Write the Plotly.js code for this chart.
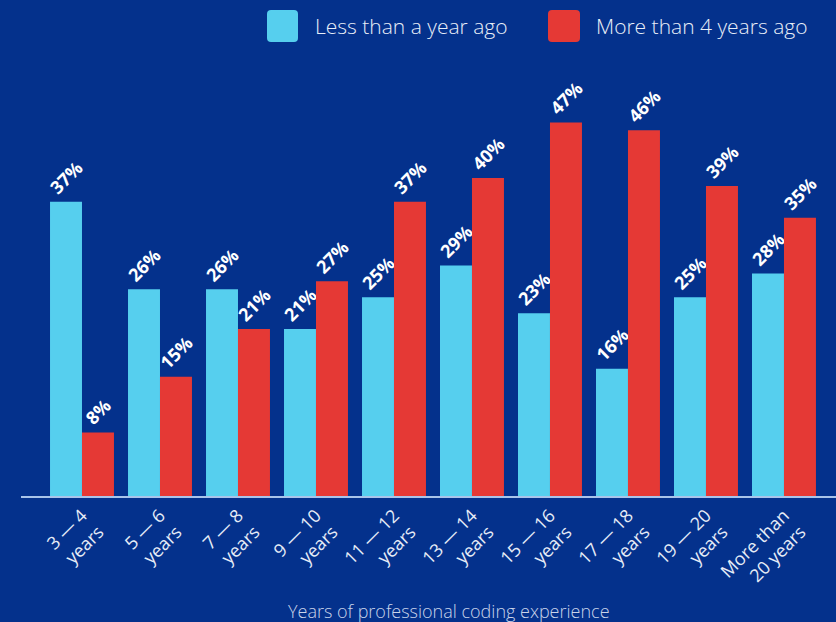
<!DOCTYPE html>
<html>
<head>
<meta charset="utf-8">
<script src="https://cdn.plot.ly/plotly-3.0.1.min.js"></script>
<style>html,body{margin:0;padding:0;background:#04318c;}#chart{width:836px;height:622px;}</style>
</head>
<body>
<div id="chart"></div>
<script>
const categories = ["3 — 4<br>years","5 — 6<br>years","7 — 8<br>years","9 — 10<br>years","11 — 12<br>years","13 — 14<br>years","15 — 16<br>years","17 — 18<br>years","19 — 20<br>years","More than<br>20 years"];
const lessThanYear = [37, 26, 26, 21, 25, 29, 23, 16, 25, 28];
const moreThan4Years = [8, 15, 21, 27, 37, 40, 47, 46, 39, 35];
const seriesNames = ["Less than a year ago", "More than 4 years ago"];
const colors = ["#56cfee", "#e53935"];

const W = 836, H = 622, ML = 21, MR = 0, MT = 56, MB = 126;
const pw = W - ML - MR, ph = H - MT - MB;
const px = x => (x - ML) / pw;
const py = y => (H - MB - y) / ph;

function roundRect(x0, y0, x1, y1, r) {
  const X = v => px(v), Y = v => py(v);
  const rx = r / pw, ry = r / ph;
  const a = X(x0), b = X(x1), top = Y(y0), bot = Y(y1);
  return `M ${a+rx},${top} L ${b-rx},${top} Q ${b},${top} ${b},${top-ry} L ${b},${bot+ry} Q ${b},${bot} ${b-rx},${bot} L ${a+rx},${bot} Q ${a},${bot} ${a},${bot+ry} L ${a},${top-ry} Q ${a},${top} ${a+rx},${top} Z`;
}

const labelFont = {family: "Open Sans, Noto Sans, sans-serif", size: 18, color: "#ffffff", weight: 700};

const traces = [lessThanYear, moreThan4Years].map((vals, i) => ({
  type: "bar",
  name: seriesNames[i],
  x: categories,
  y: vals,
  marker: {color: colors[i]},
  text: vals.map(v => v + "%"),
  textposition: "outside",
  textangle: -45,
  constraintext: "none",
  cliponaxis: false,
  textfont: labelFont,
  hoverinfo: "skip",
  showlegend: false
}));

const layout = {
  width: W, height: H,
  margin: {l: ML, r: MR, t: MT, b: MB},
  paper_bgcolor: "#04318c",
  plot_bgcolor: "rgba(0,0,0,0)",
  barmode: "group",
  bargap: 0.18,
  bargroupgap: 0,
  xaxis: {
    type: "category",
    range: [-0.782, 9.667],
    tickangle: -45,
    tickfont: {family: "Open Sans, Noto Sans, sans-serif", size: 18, color: "#e6ecf7", weight: 400},
    showline: true, linecolor: "#a9c4ea", linewidth: 2,
    showgrid: false, ticks: "", zeroline: false
  },
  yaxis: {
    range: [0, 55.35], visible: false, showgrid: false, zeroline: false
  },
  shapes: [
    {type: "path", xref: "paper", yref: "paper", path: roundRect(267, 10, 298, 42, 4), fillcolor: colors[0], line: {width: 0}},
    {type: "path", xref: "paper", yref: "paper", path: roundRect(548, 10, 580, 42, 4), fillcolor: colors[1], line: {width: 0}}
  ],
  annotations: [
    {xref: "paper", yref: "paper", x: px(313), y: py(26), xanchor: "left", yanchor: "middle", showarrow: false,
     text: seriesNames[0], font: {family: "Open Sans, Noto Sans, sans-serif", size: 21, color: "#e8eef8", weight: 300}},
    {xref: "paper", yref: "paper", x: px(594), y: py(26), xanchor: "left", yanchor: "middle", showarrow: false,
     text: seriesNames[1], font: {family: "Open Sans, Noto Sans, sans-serif", size: 21, color: "#e8eef8", weight: 300}},
    {xref: "paper", yref: "paper", x: px(449), y: py(611), xanchor: "center", yanchor: "middle", showarrow: false,
     text: "Years of professional coding experience", font: {family: "Open Sans, Noto Sans, sans-serif", size: 18, color: "#c9d4ea", weight: 300}}
  ]
};

Plotly.newPlot("chart", traces, layout, {displayModeBar: false, staticPlot: true});
</script>
</body>
</html>
